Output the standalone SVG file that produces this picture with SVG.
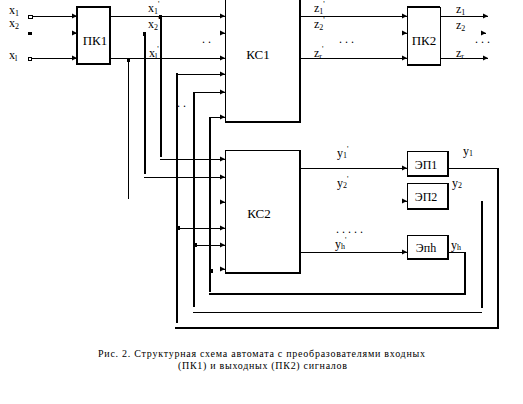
<svg xmlns="http://www.w3.org/2000/svg" width="523" height="404" viewBox="0 0 523 404">
<style>
.t{font-family:"Liberation Serif","Times New Roman",serif;font-size:12px;fill:#000}
.b{font-size:13px}
.s{font-size:8px}
.c{font-family:"Liberation Serif","Times New Roman",serif;font-size:10px;fill:#000}
.ln{stroke:#000;stroke-width:1;fill:none;shape-rendering:crispEdges}
.tk{stroke:#000;stroke-width:2;fill:none;shape-rendering:crispEdges}
.bx{stroke:#000;stroke-width:1;fill:#fff;shape-rendering:crispEdges}
.j{fill:#000}
.ar{marker-end:url(#a)}
</style>
<defs>
<marker id="a" markerUnits="userSpaceOnUse" markerWidth="5" markerHeight="6" refX="5" refY="3" orient="auto">
<path d="M0,0.5 L5,3 L0,5.5 Z" fill="#000"/>
</marker>
</defs>
<rect width="523" height="404" fill="#fff"/>

<g id="connectors">
<!-- inputs to PK1 -->
<rect x="28" y="15" width="4" height="3" class="ln"/>
<rect x="28" y="32" width="4" height="3" fill="#000"/>
<circle cx="30" cy="59" r="2" class="ln"/>
<path class="ln ar" d="M32,16 H77"/>
<path class="ln ar" d="M73,33 H77"/>
<path class="ln ar" d="M32,58 H77"/>
<!-- PK1 to KC1 -->
<path class="ln ar" d="M110,16 H225"/>
<path class="ln ar" d="M221,33 H225"/>
<path class="ln ar" d="M110,58 H225"/>
<!-- KC1 to PK2 -->
<path class="ln ar" d="M300,16 H407"/>
<path class="ln ar" d="M403,33 H407"/>
<path class="ln ar" d="M300,58 H407"/>
<!-- PK2 outputs -->
<path class="ln ar" d="M440,16 H488"/>
<path class="ln ar" d="M482,33 H486"/>
<path class="ln ar" d="M440,58 H488"/>
<!-- x taps -->
<rect class="j" x="159" y="15" width="3" height="4"/>
<path class="tk" d="M161,16 V157"/>
<path class="ln ar" d="M160,159 H225"/>
<rect class="j" x="143" y="32" width="3" height="4"/>
<path class="tk" d="M145,33 V174"/>
<path class="ln ar" d="M144,177 H225"/>
<rect class="j" x="127" y="58" width="3" height="4"/>
<path class="ln" d="M128,59 V199"/>
<!-- feedback y1 -->
<path class="ln" d="M448,168 H498"/>
<path class="tk" d="M498,168 V328"/>
<path class="tk" d="M175,328 H499"/>
<path class="tk" d="M177,73 V323"/>
<path class="ln ar" d="M176,74 H225"/>
<rect class="j" x="176" y="226" width="4" height="4"/>
<path class="ln ar" d="M176,228 H225"/>
<!-- feedback y2 -->
<path class="tk" d="M482,201 V308"/>
<path class="ln" d="M193,312 H482"/>
<path class="tk" d="M194,92 V307"/>
<path class="ln ar" d="M193,92 H225"/>
<rect class="j" x="193" y="243" width="4" height="4"/>
<path class="ln ar" d="M193,245 H225"/>
<!-- feedback yh -->
<path class="ln" d="M448,252 H465"/>
<path class="tk" d="M465,252 V295"/>
<path class="tk" d="M209,294 H466"/>
<path class="tk" d="M210,117 V292"/>
<path class="ln ar" d="M209,117 H225"/>
<rect class="j" x="209" y="269" width="4" height="4"/>
<path class="ln ar" d="M221,269 H225"/>
<path class="ln ar" d="M221,202 H225"/>
<!-- KC2 outputs -->
<path class="ln ar" d="M300,168 H407"/>
<path class="ln ar" d="M403,201 H407"/>
<path class="ln ar" d="M300,252 H407"/>
</g>

<g id="pk1">
<rect class="bx" x="77" y="7" width="33" height="57" style="stroke-width:2"/>
<text class="t b" x="95" y="45" text-anchor="middle">ПК1</text>
</g>
<g id="kc1">
<rect class="bx" x="225" y="-3" width="75" height="125"/>
<path class="tk" d="M300,-3 V122 H225"/>
<text class="t b" x="258" y="59" text-anchor="middle">КС1</text>
</g>
<g id="pk2">
<rect class="bx" x="407" y="7" width="33" height="58"/>
<path class="tk" d="M407,7 H440 M407,65 H440"/>
<text class="t b" x="424" y="45" text-anchor="middle">ПК2</text>
</g>
<g id="kc2">
<rect class="bx" x="225" y="150" width="75" height="123"/>
<path class="tk" d="M300,150 V273 H225"/>
<text class="t b" x="259" y="218" text-anchor="middle">КС2</text>
</g>
<g id="ep1">
<rect class="bx" x="407" y="151" width="41" height="25"/>
<path class="tk" d="M448,151 V176 H407"/>
<text class="t" x="426" y="169" text-anchor="middle">ЭП1</text>
</g>
<g id="ep2">
<rect class="bx" x="407" y="183" width="41" height="26"/>
<path class="tk" d="M448,183 V209 H407"/>
<text class="t" x="426" y="201" text-anchor="middle">ЭП2</text>
</g>
<g id="eph">
<rect class="bx" x="407" y="235" width="41" height="24"/>
<path class="tk" d="M448,235 V259 H407"/>
<text class="t" x="426" y="252" text-anchor="middle">Эпh</text>
</g>

<g id="labels">
<text class="t" x="9" y="14">x<tspan class="s" dy="2">1</tspan></text>
<text class="t" x="9" y="27">x<tspan class="s" dy="2">2</tspan></text>
<text class="t" x="9" y="59">x<tspan class="s" dy="2">l</tspan></text>

<text class="t" x="148" y="12">x<tspan class="s" dy="2">1</tspan><tspan class="s" dy="-7">'</tspan></text>
<text class="t" x="148" y="28">x<tspan class="s" dy="2">2</tspan><tspan class="s" dy="-7">'</tspan></text>
<text class="t" x="149" y="57">x<tspan class="s" dy="2">l</tspan><tspan class="s" dy="-7">'</tspan></text>
<text class="t" x="202" y="43">. .</text>

<text class="t" x="314" y="12">z<tspan class="s" dy="2">1</tspan><tspan class="s" dy="-7">'</tspan></text>
<text class="t" x="314" y="28">z<tspan class="s" dy="2">2</tspan><tspan class="s" dy="-7">'</tspan></text>
<text class="t" x="314" y="57">z<tspan class="s" dy="2">r</tspan><tspan class="s" dy="-7">'</tspan></text>
<text class="t" x="339" y="43">. . .</text>

<text class="t" x="456" y="13">z<tspan class="s" dy="2">1</tspan></text>
<text class="t" x="456" y="29">z<tspan class="s" dy="2">2</tspan></text>
<text class="t" x="456" y="57">z<tspan class="s" dy="2">r</tspan></text>
<text class="t" x="475" y="43">. . .</text>

<text class="t" x="177" y="107">. .</text>

<text class="t" x="337" y="157">y<tspan class="s" dy="1">1</tspan><tspan class="s" dy="-6">'</tspan></text>
<text class="t" x="337" y="187">y<tspan class="s" dy="1">2</tspan><tspan class="s" dy="-6">'</tspan></text>
<text class="t" x="336" y="233">. . . . .</text>
<text class="t" x="335" y="248">y<tspan class="s" dy="1">h</tspan><tspan class="s" dy="-6">'</tspan></text>

<text class="t" x="463" y="155">y<tspan class="s" dy="1">1</tspan></text>
<text class="t" x="452" y="187">y<tspan class="s" dy="1">2</tspan></text>
<text class="t" x="451" y="249">y<tspan class="s" dy="1">h</tspan></text>

<text class="c" x="98" y="357" textLength="327" lengthAdjust="spacing">Рис. 2. Структурная схема автомата с преобразователями входных</text>
<text class="c" x="178" y="369" textLength="169" lengthAdjust="spacing">(ПК1) и выходных (ПК2) сигналов</text>
</g>
</svg>
